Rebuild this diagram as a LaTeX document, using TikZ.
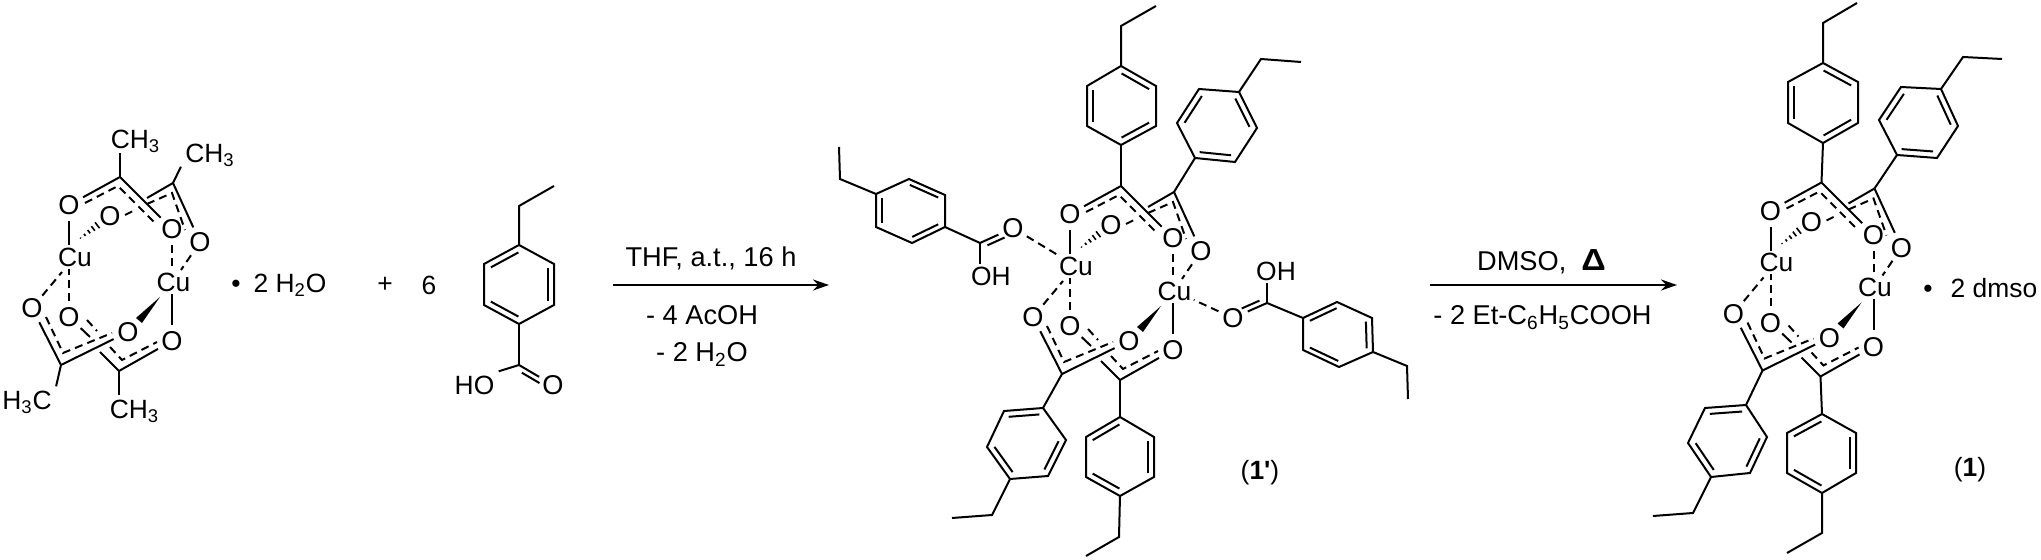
\documentclass[tikz,border=0pt]{standalone}
\usepackage{fontspec}
\usepackage{graphicx}
\setmainfont{Liberation Sans}
\usetikzlibrary{arrows.meta,calc}
\tikzset{>={Stealth[length=8pt,width=5.5pt]}}
\tikzset{bond/.style={line width=1pt}}
\tikzset{delo/.style={line width=1pt,dash pattern=on 4pt off 2.6pt}}
\tikzset{atom/.style={circle,inner sep=0.5pt,font=\fontsize{13.6}{15}\selectfont,text height=9.6pt,text depth=0pt}}
\tikzset{lbl/.style={inner sep=2pt,font=\fontsize{13.2}{15}\selectfont,text height=9.3pt,text depth=0pt}}
\tikzset{cond/.style={inner sep=2pt,font=\fontsize{13.6}{16}\selectfont,text height=9.7pt,text depth=0pt}}

\newcommand{\coreunit}[3]{%
\begin{scope}[shift={(#2,#3)},name prefix=#1-]
\foreach \n/\p in {C1/{120,177},C2/{173,183},C3/{61,365},C4/{119,371},
  s2/{147,198},s4a/{100,352},s4b/{90,337},
  e1/{85,203},e2/{118,186},e3/{157,225},
  f1/{125,215},f2/{135,210},f3/{147,204},f4/{172,193},f5/{185,230},
  g1/{46,317},g2/{63,353},g3/{112,333},
  k1/{87,320},k2/{97,331},k3/{110,347},k4/{122,360},k5/{157,342},
  cl/{62,272},cr/{181,270},h1/{78,240},h2/{99,224},
  w0/{160,297},w1/{136,318},w2/{142,323}}
  \coordinate (\n) at (\p);
\foreach \n/\p in {O1/{69,205},O2/{110,216},O3/{172,229},O4/{200,242},
  O5/{32,308},O6/{69,317},O7/{128,332},O8/{172,341}}
  \node[atom] (\n) at (\p) {O};
\node[lbl,inner sep=1pt] (Cu1) at (75,257) {Cu};
\node[lbl,inner sep=1pt] (Cu2) at (173.5,282) {Cu};
\draw[bond] (O1) -- (C1) -- (O3);
\draw[bond] (C2) -- (O4);
\draw[bond] (C2) -- (s2);
\draw[bond] (O5) -- (C3) -- (O7);
\draw[bond] (O8) -- (C4) -- (s4a);
\draw[bond] (O6) -- (s4b);
\draw[delo] (e1) -- (e2) -- (e3);
\draw[delo] (f1) -- (f2);
\draw[delo] (f3) -- (f4) -- (f5);
\draw[delo] (g1) -- (g2) -- (g3);
\draw[delo] (k1) -- (k2);
\draw[delo] (k3) -- (k4) -- (k5);
\draw[bond] (O1) -- (O1 |- Cu1.north);
\draw[delo] (O5) -- (cl);
\draw[delo] (O6) -- (O6 |- Cu1.south);
\draw[delo] (O3) -- (O3 |- Cu2.north);
\draw[delo] (O4) -- (cr);
\draw[bond] (O8) -- (O8 |- Cu2.south);
\foreach \t in {0.12,0.32,0.52,0.72,0.92}
  \draw[line width=0.8pt] ($(h1)!\t!(h2)!\t*2pt!90:(h2)$) -- ($(h1)!\t!(h2)!\t*2pt!-90:(h2)$);
\fill (w0) -- (w1) -- (w2) -- cycle;
\end{scope}}

\newcommand{\aryl}[7]{%
\coordinate (#11) at (#2);
\coordinate (#12) at (#3);
\coordinate (#13) at (#4);
\coordinate (#14) at (#5);
\coordinate (#15) at (#6);
\coordinate (#16) at (#7);
\coordinate (#1c) at ($(#11)!0.5!(#14)$);
\draw[bond] (#11) -- (#12) -- (#13) -- (#14) -- (#15) -- (#16) -- cycle;
\foreach \a/\b in {1/2,3/4,5/6}
  \draw[bond] ($(#1\a)!0.02!(#1\b)!0.18!(#1c)$) -- ($(#1\a)!0.98!(#1\b)!0.18!(#1c)$);}

\newcommand{\ethyl}[4]{%
\coordinate (#2m) at (#3);
\coordinate (#2e) at (#4);
\draw[bond] (#1) -- (#2m) -- (#2e);}

\newcommand{\dblbond}[2]{%
\draw[bond] (#1) -- (#2);
\draw[bond] ($(#1)!0.16!(#2)!2.6pt!-90:(#2)$) -- ($(#1)!0.68!(#2)!2.6pt!-90:(#2)$);}

\begin{document}
\begin{tikzpicture}[x=0.5pt,y=-0.5pt]
\useasboundingbox (0,0) rectangle (2041,560);

\coreunit{a}{0}{0}
\node[lbl] (Me1) at (135.5,139) {CH\textsubscript{3}};
\node[lbl] (Me2) at (210,153) {CH\textsubscript{3}};
\node[lbl] (Me3) at (27,400) {H\textsubscript{3}C};
\node[lbl] (Me4) at (134.5,409) {CH\textsubscript{3}};
\draw[bond] (a-C1) -- (a-C1 |- Me1.south);
\draw[bond] (a-C2) -- (Me2.south west);
\draw[bond] (a-C3) -- (Me3.north east);
\draw[bond] (a-C4) -- (a-C4 |- Me4.north);
\node[lbl] (dota) at (236,283) {\textbullet};
\node[lbl] (water) at (290,283) {2 H\textsubscript{2}O};
\node[lbl] (plus) at (385,283) {+};
\node[lbl] (six) at (429,285) {6};

\aryl{fr}{519,245}{484,264}{484,305}{519,324}{554,305}{554,264}
\ethyl{fr1}{fret}{519,206}{554,186}
\coordinate (frC) at (519,365);
\node[lbl] (frOH) at (474.5,385) {HO};
\node[atom] (frO) at (553,385) {O};
\draw[bond] (fr4) -- (frC);
\draw[bond] (frC) -- (frOH.north east);
\dblbond{frC}{frO}

\coordinate (ar1s) at (613,285);
\coordinate (ar1e) at (829,285);
\draw[->,line width=1pt] (ar1s) -- (ar1e);
\node[cond] (thf) at (711,257) {THF, a.t., 16 h};
\node[cond] (acoh) at (702,315) {- 4 AcOH};
\node[cond] (wat) at (702,352) {- 2 H\textsubscript{2}O};

\coreunit{b}{1001}{9}
\aryl{bt}{1121,66}{1156,86}{1156,126}{1121,145}{1087,126}{1087,86}
\ethyl{bt1}{btet}{1121,26}{1156,6}
\draw[bond] (b-C1) -- (bt4);
\aryl{br}{1239,92}{1257,128}{1235,162}{1195,158}{1177,123}{1199,89}
\ethyl{br1}{bret}{1261,59}{1301,62}
\draw[bond] (b-C2) -- (br4);
\aryl{bl}{1043,408}{1004,411}{987,447}{1010,479}{1048,476}{1066,440}
\ethyl{bl4}{blet}{992,515}{952,518}
\draw[bond] (b-C3) -- (bl1);
\aryl{bb}{1120,417}{1086,437}{1086,477}{1120,496}{1154,477}{1154,437}
\ethyl{bb4}{bbet}{1119,537}{1086,556}
\draw[bond] (b-C4) -- (bb1);

\aryl{la}{945,227}{912,243}{876,227}{876,194}{909,179}{945,195}
\ethyl{la4}{laet}{840,179}{839,147}
\coordinate (laC) at (980,243);
\node[atom] (laO) at (1013,228) {O};
\node[lbl,inner sep=1pt] (laOH) at (991,276) {OH};
\draw[bond] (la1) -- (laC);
\dblbond{laC}{laO}
\draw[bond] (laC) -- (laC |- laOH.north);
\draw[delo] (laO) -- (b-Cu1);

\aryl{ra}{1303,318}{1337,302}{1372,318}{1373,352}{1339,367}{1303,350}
\ethyl{ra4}{raet}{1407,366}{1408,399}
\coordinate (raC) at (1267,303);
\node[atom] (raO) at (1233,318) {O};
\node[lbl,inner sep=1pt] (raOH) at (1276,271) {OH};
\draw[bond] (ra1) -- (raC);
\dblbond{raC}{raO}
\draw[bond] (raC) -- (raC |- raOH.south);
\draw[delo] (raO) -- (b-Cu2);
\node[lbl] (lab1p) at (1260,470) {(\textbf{1\textquotesingle})};

\coordinate (ar2s) at (1430,285);
\coordinate (ar2e) at (1677,285);
\draw[->,line width=1pt] (ar2s) -- (ar2e);
\node[cond] (dmso) at (1541.5,261) {DMSO,\ \ \scalebox{1.25}[1.12]{\textbf{Δ}}};
\node[cond] (etacid) at (1542.5,315) {- 2 Et-C\textsubscript{6}H\textsubscript{5}COOH};

\coreunit{c}{1701.5}{5.5}
\aryl{ct}{1823,63}{1858,82}{1858,123}{1823,143}{1788,123}{1788,82}
\ethyl{ct1}{ctet}{1823,23}{1857,3}
\draw[bond] (c-C1) -- (ct4);
\aryl{cr}{1941,89}{1958,126}{1937,158}{1897,155}{1879,120}{1901,87}
\ethyl{cr1}{cret}{1963,57}{2002,59}
\draw[bond] (c-C2) -- (cr4);
\aryl{cl}{1746,405}{1705,408}{1688,443}{1711,477}{1750,473}{1767,437}
\ethyl{cl4}{clet}{1693,513}{1653,516}
\draw[bond] (c-C3) -- (cl1);
\aryl{cb}{1822,414}{1787,433}{1787,473}{1822,493}{1856,473}{1856,433}
\ethyl{cb4}{cbet}{1822,533}{1787,553}
\draw[bond] (c-C4) -- (cb1);
\node[lbl] (dotc) at (1928,288) {\textbullet};
\node[lbl] (dmsoc) at (1994,288) {2 dmso};
\node[lbl] (lab1) at (1970,467) {(\textbf{1})};
\end{tikzpicture}
\end{document}
